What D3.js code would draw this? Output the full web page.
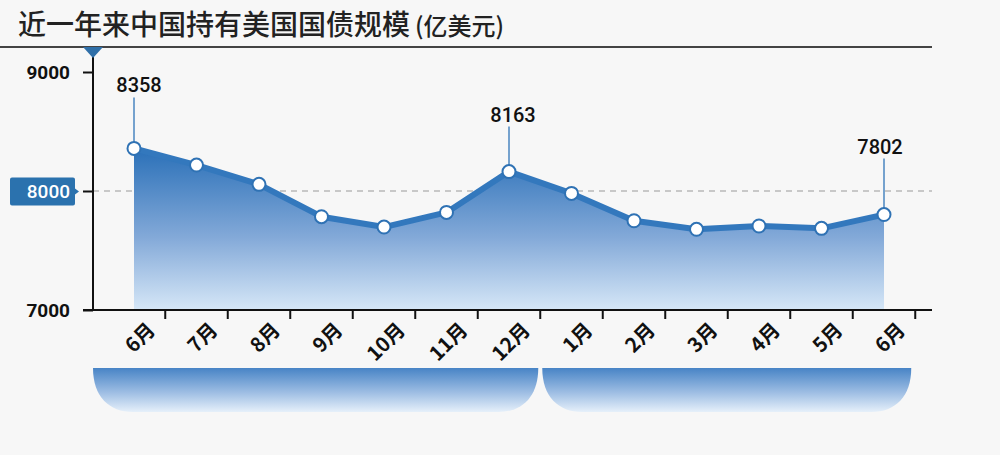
<!DOCTYPE html>
<html>
<head>
<meta charset="utf-8">
<script src="https://cdn.jsdelivr.net/npm/d3@7"></script>
<style>
  html, body { margin: 0; padding: 0; background: #f7f7f7; }
  svg { display: block; }
</style>
</head>
<body>
<div id="chart"></div>
<script>
// months over the last year (jun 2023 -> jun 2024)
const months = ["6月", "7月", "8月", "9月", "10月", "11月", "12月", "1月", "2月", "3月", "4月", "5月", "6月"];
// holdings, 100 million USD
const holdings = [8358, 8218, 8056, 7784, 7697, 7820, 8163, 7980, 7750, 7678, 7706, 7686, 7802];
const yTicks = [7000, 8000, 9000];
const refValue = 8000;
// months that get a value callout
const calloutIdx = [0, 6, 12];
// the two year blocks under the axis (first/last month index)
const yearGroups = [[0, 6], [7, 12]];

const W = 1000, H = 455;
const svg = d3.select("#chart").append("svg")
    .attr("width", W)
    .attr("height", H);

const defs = svg.append("defs");

const areaGrad = defs.append("linearGradient")
    .attr("id", "areaGrad")
    .attr("x1", 0).attr("y1", 0).attr("x2", 0).attr("y2", 1);
areaGrad.append("stop").attr("offset", "0%").attr("stop-color", "#2a70b8");
areaGrad.append("stop").attr("offset", "55%").attr("stop-color", "#83a9d8");
areaGrad.append("stop").attr("offset", "100%").attr("stop-color", "#d6e7f7");

const barGrad = defs.append("linearGradient")
    .attr("id", "barGrad")
    .attr("x1", 0).attr("y1", 0).attr("x2", 0).attr("y2", 1);
barGrad.append("stop").attr("offset", "0%").attr("stop-color", "#4884c6");
barGrad.append("stop").attr("offset", "55%").attr("stop-color", "#9dbde3");
barGrad.append("stop").attr("offset", "100%").attr("stop-color", "#e6f0fa");

//title
const title = svg.append("text")
    .attr("x", 18)
    .attr("y", 35)
    .attr("fill", "#222")
    .style("font-family", "'Noto Sans CJK SC', sans-serif")
    .style("font-weight", 500)
    .style("font-size", "28px")
    .text("近一年来中国持有美国国债规模");
title.append("tspan")
    .attr("dx", 5)
    .style("font-size", "24px")
    .text("(亿美元)");

svg.append("line")
    .attr("x1", 0).attr("x2", 932)
    .attr("y1", 47).attr("y2", 47)
    .attr("stroke", "#444")
    .attr("stroke-width", 2);

const axisX = 93;
const x = d3.scalePoint()
    .domain(d3.range(months.length))
    .range([134, 884]);
const step = x.step();

const y = d3.scaleLinear()
    .domain([7000, 9000])
    .range([310, 72]);

//dashed reference line
svg.append("line")
    .attr("x1", axisX).attr("x2", 932)
    .attr("y1", y(refValue)).attr("y2", y(refValue))
    .attr("stroke", "#999")
    .attr("stroke-width", 1.2)
    .attr("stroke-dasharray", "6 5");

//area
const area = d3.area()
    .x((d, i) => x(i))
    .y0(y(7000))
    .y1(d => y(d));
svg.append("path")
    .datum(holdings)
    .attr("fill", "url(#areaGrad)")
    .attr("d", area);

//callout stems and labels
const calloutDy = { 0: 56, 6: 50, 12: 61 };
const calloutDx = { 0: 5, 6: 4, 12: -4 };
calloutIdx.forEach(i => {
    const px = x(i), py = y(holdings[i]);
    svg.append("line")
        .attr("x1", px).attr("x2", px)
        .attr("y1", py - calloutDy[i] + 5).attr("y2", py)
        .attr("stroke", "#4a86c0")
        .attr("stroke-width", 1.5);
    svg.append("text")
        .attr("x", px + calloutDx[i])
        .attr("y", py - calloutDy[i])
        .attr("text-anchor", "middle")
        .attr("fill", "#111")
        .style("font-family", "Roboto, sans-serif")
        .style("font-weight", 500)
        .style("font-size", "20px")
        .text(holdings[i]);
});

//line
const line = d3.line()
    .x((d, i) => x(i))
    .y(d => y(d));
svg.append("path")
    .datum(holdings)
    .attr("fill", "none")
    .attr("stroke", "#3378bd")
    .attr("stroke-width", 6)
    .attr("stroke-linejoin", "round")
    .attr("d", line);

svg.append("g")
    .selectAll("circle")
    .data(holdings)
    .join("circle")
        .attr("cx", (d, i) => x(i))
        .attr("cy", d => y(d))
        .attr("r", 6.5)
        .attr("fill", "#fff")
        .attr("stroke", "#2f72b4")
        .attr("stroke-width", 2);

//y axis
svg.append("line")
    .attr("x1", axisX).attr("x2", axisX)
    .attr("y1", 47).attr("y2", y(7000))
    .attr("stroke", "#111")
    .attr("stroke-width", 2);

svg.append("path")
    .attr("d", `M${axisX - 10},47 L${axisX + 10},47 L${axisX},58 Z`)
    .attr("fill", "#2f6fa8");

const yAxis = svg.append("g")
    .attr("transform", `translate(${axisX},0)`)
    .call(d3.axisLeft(y).tickValues(yTicks).tickFormat(d3.format("d")).tickSize(10).tickPadding(13));
yAxis.select(".domain").remove();
yAxis.selectAll(".tick line").attr("stroke", "#111").attr("stroke-width", 2);
yAxis.selectAll(".tick text")
    .attr("fill", "#111")
    .style("font-family", "Roboto, sans-serif")
    .style("font-weight", 700)
    .style("font-size", "19px");

//highlighted 8000 tag
const refTick = yAxis.selectAll(".tick").filter(d => d === refValue);
refTick.select("text").attr("fill", "#fff").style("font-weight", 500);
refTick.insert("path", "text")
    .attr("d", "M-83,-12 Q-83,-14 -81,-14 L-20,-14 Q-18,-14 -18,-12 L-18,-3 L-14,0 L-18,3 L-18,12 Q-18,14 -20,14 L-81,14 Q-83,14 -83,12 Z")
    .attr("fill", "#2b72ae");

//x axis
const xAxisY = y(7000);
svg.append("line")
    .attr("x1", 83).attr("x2", 932)
    .attr("y1", xAxisY).attr("y2", xAxisY)
    .attr("stroke", "#111")
    .attr("stroke-width", 2);

svg.append("g")
    .selectAll("line")
    .data(d3.range(months.length))
    .join("line")
        .attr("x1", i => x(i) + step / 2)
        .attr("x2", i => x(i) + step / 2)
        .attr("y1", xAxisY)
        .attr("y2", xAxisY + 9)
        .attr("stroke", "#111")
        .attr("stroke-width", 2);

svg.append("g")
    .selectAll("text")
    .data(months)
    .join("text")
        .attr("transform", (d, i) => `translate(${x(i) + 11},${xAxisY + 10}) rotate(-45)`)
        .attr("text-anchor", "end")
        .attr("dy", "0.8em")
        .attr("fill", "#111")
        .style("font-family", "'Noto Sans CJK SC', sans-serif")
        .style("font-weight", 700)
        .style("font-size", "20px")
        .text(d => d);

//year blocks
const blockTop = 368, blockH = 44, rx = 40;
yearGroups.forEach(([a, b], k) => {
    const x0 = k === 0 ? axisX : x(a) - step / 2 + 2;
    const x1 = x(b) + step / 2 - (k === 0 ? 2 : 4);
    const bottom = blockTop + blockH;
    const p = d3.path();
    p.moveTo(x0, blockTop);
    p.lineTo(x1, blockTop);
    p.bezierCurveTo(x1, blockTop + blockH * 0.65, x1 - rx * 0.4, bottom, x1 - rx, bottom);
    p.lineTo(x0 + rx, bottom);
    p.bezierCurveTo(x0 + rx * 0.4, bottom, x0, blockTop + blockH * 0.65, x0, blockTop);
    p.closePath();
    svg.append("path")
        .attr("d", p.toString())
        .attr("fill", "url(#barGrad)");
});
</script>
</body>
</html>
